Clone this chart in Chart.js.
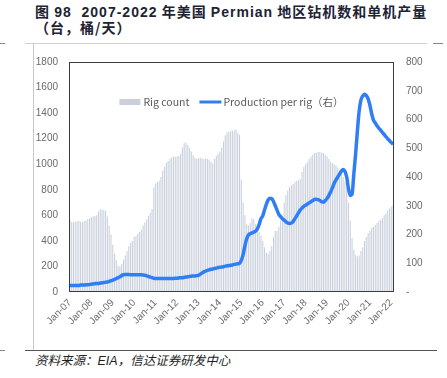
<!DOCTYPE html>
<html>
<head>
<meta charset="utf-8">
<script src="https://cdn.jsdelivr.net/npm/chart.js@4.4.1/dist/chart.umd.min.js"></script>
<style>
  body { margin: 0; width: 447px; height: 378px; background: #fff; position: relative; overflow: hidden; }
  .title { position: absolute; left: 35px; top: 4px; font-family: "Noto Sans CJK SC", sans-serif; font-weight: bold;
           font-size: 14px; line-height: 15px; color: #1d2333; letter-spacing: 1px; white-space: nowrap; }
  .title .lat { font-family: "Liberation Sans", Arial, sans-serif; }
  .src { position: absolute; left: 35px; top: 350px; font-family: "Noto Sans CJK SC", sans-serif; font-style: italic;
         font-size: 12.5px; color: #222; white-space: nowrap; }
  .src .lat { font-family: "Liberation Sans", Arial, sans-serif; }
  .hl { position: absolute; height: 1px; }
  .vl { position: absolute; width: 1px; background: #c8c8c8; }
  #wrap { position: absolute; left: 34px; top: 44px; width: 413px; height: 300px; }
</style>
</head>
<body>
<div class="title">图 <span class="lat">98&nbsp; 2007-2022</span> 年美国 <span class="lat">Permian</span> 地区钻机数和单机产量<br>（台，桶/天）</div>
<div class="hl" style="left:0;top:43px;width:5px;background:#888"></div>
<div class="hl" style="left:25px;top:43px;width:402px;background:#d0d0d0"></div>
<div class="hl" style="left:433px;top:43px;width:10px;background:#888"></div>
<div class="vl" style="left:33px;top:43px;height:307px"></div>
<div class="hl" style="left:0;top:350px;width:5px;background:#888"></div>
<div class="hl" style="left:25px;top:350px;width:412px;background:#555"></div>
<div class="src">资料来源：<span class="lat">EIA</span>，信达证券研发中心</div>
<div id="wrap"><canvas id="chart"></canvas></div>
<script>
const startYear = 2007;
const monthNames = ['Jan','Feb','Mar','Apr','May','Jun','Jul','Aug','Sep','Oct','Nov','Dec'];
const monthCount = 182; // Jan-07 .. Feb-22

// Rig count (left axis), one row per year
const rigCount = [
  566, 545, 545, 550, 552, 555, 550, 548, 555, 562, 570, 578,   // 2007
  585, 590, 595, 600, 630, 645, 645, 640, 635, 590, 520, 450,   // 2008
  370, 300, 250, 205, 200, 220, 255, 285, 320, 360, 385, 400,   // 2009
  430, 440, 455, 470, 490, 520, 545, 570, 595, 620, 650, 820,   // 2010
  850, 860, 870, 900, 950, 980, 1010, 1025, 1040, 1055, 1060, 1060, // 2011
  1060, 1065, 1080, 1130, 1165, 1170, 1150, 1125, 1100, 1070, 1050, 1040, // 2012
  1045, 1050, 1045, 1040, 1045, 1040, 1035, 1020, 1005, 1040, 1065, 1080, // 2013
  1100, 1130, 1180, 1225, 1250, 1255, 1260, 1260, 1265, 1270, 1245, 1230, // 2014
  880, 700, 600, 530, 520, 540, 580, 570, 530, 500, 470, 445,   // 2015
  400, 350, 310, 300, 320, 360, 430, 480, 480, 510, 560, 600,   // 2016
  700, 760, 795, 820, 835, 845, 860, 870, 875, 885, 940, 980,   // 2017
  1000, 1015, 1040, 1060, 1075, 1085, 1090, 1095, 1095, 1090, 1085, 1075, // 2018
  1060, 1040, 1020, 1010, 1000, 990, 975, 950, 930, 900, 860, 820, // 2019
  700, 560, 420, 330, 290, 280, 285, 320, 350, 400, 430, 460,   // 2020
  480, 500, 510, 525, 540, 555, 565, 580, 600, 615, 640, 655,   // 2021
  670, 680                                                       // 2022
];

// Production per rig (right axis)
const prodPerRig = [
  23, 23, 23, 23, 23, 23, 24, 24, 24, 25, 25, 26,   // 2007
  27, 28, 29, 30, 30, 31, 32, 33, 34, 35, 37, 39,   // 2008
  41, 44, 47, 50, 53, 57, 60, 61, 61, 61, 60, 60,   // 2009
  60, 60, 60, 60, 60, 59, 58, 56, 54, 52, 50, 48,   // 2010
  47, 47, 47, 47, 47, 47, 47, 47, 47, 47, 47, 48,   // 2011
  48, 49, 50, 50, 51, 52, 53, 54, 55, 56, 56, 57,   // 2012
  58, 62, 66, 70, 73, 75, 77, 79, 80, 82, 83, 85,   // 2013
  86, 87, 88, 90, 91, 92, 93, 94, 96, 97, 98, 100,  // 2014
  110, 130, 160, 185, 198, 203, 206, 208, 212, 220, 235, 255, // 2015
  265, 285, 305, 320, 326, 325, 315, 300, 285, 270, 262, 255, // 2016
  250, 244, 240, 238, 240, 245, 255, 265, 275, 285, 292, 298, // 2017
  302, 306, 310, 314, 318, 322, 323, 321, 318, 314, 312, 318, // 2018
  325, 335, 348, 362, 378, 390, 400, 410, 420, 426, 420, 400, // 2019
  360, 336, 340, 410, 480, 560, 630, 668, 682, 688, 683, 672, // 2020
  650, 620, 598, 588, 578, 570, 563, 555, 548, 540, 533, 526, // 2021
  520, 514                                                     // 2022
];

const leftTicks = { min: 0, max: 1800, step: 200 };
const rightTicks = { min: 0, max: 800, step: 100 };

const labels = [];
for (let i = 0; i < monthCount; i++) {
  const y = String((startYear + Math.floor(i / 12)) % 100).padStart(2, '0');
  labels.push(monthNames[i % 12] + '-' + y);
}

const tickFont = { family: 'Liberation Sans, Arial, sans-serif', size: 10 };
const tickColor = '#6b6b6b';

// plot frame + in-plot legend
const framePlugin = {
  id: 'frame',
  afterDraw(chart) {
    const { ctx, chartArea: a } = chart;
    ctx.save();
    ctx.strokeStyle = '#3c3c3c';
    ctx.lineWidth = 1;
    ctx.strokeRect(Math.round(a.left) + 0.5, Math.round(a.top) + 0.5,
                   Math.round(a.right - a.left) - 1, Math.round(a.bottom - a.top) - 1);

    const ds = chart.data.datasets;
    ctx.font = '10.5px "Noto Sans CJK SC", sans-serif';
    ctx.textBaseline = 'middle';
    ctx.fillStyle = '#595959';
    const t1 = ds[0].label, t2 = ds[1].label;
    const w1 = ctx.measureText(t1).width, w2 = ctx.measureText(t2).width;
    const total = 21 + 3 + w1 + 10 + 22 + 2 + w2;
    let x = (a.left + a.right) / 2 - total / 2;
    const y = a.top + 40;
    ctx.fillStyle = ds[0].backgroundColor;
    ctx.fillRect(x, y - 3, 21, 6);
    x += 24;
    ctx.fillStyle = '#595959';
    ctx.fillText(t1, x, y);
    x += w1 + 10;
    ctx.strokeStyle = ds[1].borderColor;
    ctx.lineWidth = 3;
    ctx.beginPath(); ctx.moveTo(x, y); ctx.lineTo(x + 22, y); ctx.stroke();
    x += 24;
    ctx.fillText(t2, x, y);
    ctx.restore();
  }
};

new Chart(document.getElementById('chart'), {
  type: 'bar',
  data: {
    labels: labels,
    datasets: [
      {
        type: 'bar',
        label: 'Rig count',
        data: rigCount,
        yAxisID: 'y',
        backgroundColor: '#c9d0dc',
        barPercentage: 0.6,
        categoryPercentage: 1,
        order: 2
      },
      {
        type: 'line',
        label: 'Production per rig（右）',
        data: prodPerRig,
        yAxisID: 'y1',
        borderColor: '#2f7ef5',
        borderWidth: 3.5,
        pointRadius: 0,
        tension: 0.4,
        cubicInterpolationMode: 'monotone',
        order: 1
      }
    ]
  },
  plugins: [framePlugin],
  options: {
    responsive: true,
    maintainAspectRatio: false,
    animation: false,
    layout: { padding: { top: 10, left: 0, right: 0, bottom: 0 } },
    plugins: { legend: { display: false }, tooltip: { enabled: false } },
    scales: {
      x: {
        grid: { display: false, drawTicks: false },
        border: { display: false },
        ticks: {
          autoSkip: false, minRotation: 45, maxRotation: 45, padding: 5,
          color: tickColor, font: tickFont,
          callback: (v, i) => (i % 12 === 0 ? labels[i] : null)
        },
        afterFit: s => { s.height = 52; }
      },
      y: {
        position: 'left',
        min: leftTicks.min, max: leftTicks.max,
        grid: { display: false, drawTicks: false },
        border: { display: false },
        ticks: { stepSize: leftTicks.step, padding: 11, color: tickColor, font: tickFont,
                 callback: v => String(v) },
        afterFit: s => { s.width = 35; }
      },
      y1: {
        position: 'right',
        min: rightTicks.min, max: rightTicks.max,
        grid: { display: false, drawTicks: false },
        border: { display: false },
        ticks: { stepSize: rightTicks.step, padding: 12, color: tickColor, font: tickFont,
                 callback: v => (v === 0 ? '-' : String(v)) },
        afterFit: s => { s.width = 53; }
      }
    }
  }
});
</script>
</body>
</html>
